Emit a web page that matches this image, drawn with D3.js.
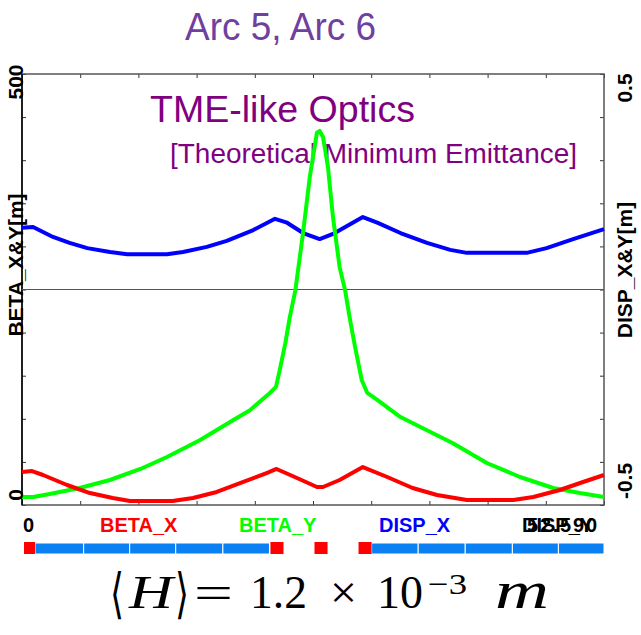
<!DOCTYPE html>
<html>
<head>
<meta charset="utf-8">
<script src="https://cdn.jsdelivr.net/npm/d3@7"></script>
<style>
  body { margin: 0; background: #fff; }
  svg { display: block; }
</style>
</head>
<body>
<svg id="chart" width="641" height="635"></svg>
<script>
"use strict";

// ring length [m]
const sLen = 52.59;

// BETA_X
const sBetaX = [0, 0.9, 1.9, 4.07, 6.14, 8.2, 9.76, 13.6, 15.45, 17.6, 20.0, 22.1, 23.0, 24.85, 26.65, 27.2, 28.7, 30.8, 33.0, 35.3, 37.5, 40.2, 44.4, 46.2, 48.6, 50.7, 52.59];
const betaX = [38.3, 39.4, 34.8, 23.2, 13.9, 8.1, 4.6, 4.6, 8.1, 15.1, 26.7, 37.1, 41.8, 31.3, 20.9, 20.9, 29, 44, 32.5, 19.7, 11.6, 5.8, 5.8, 9.3, 17.4, 26.7, 34.8];

// BETA_Y
const sBetaY = [0, 1.0, 2.5, 5.2, 7.95, 10.7, 13.1, 16.1, 19.1, 20.6, 22.4, 22.95, 23.3, 23.8, 24.2, 24.7, 25.4, 26.0, 26.65, 26.9, 27.2, 27.65, 28.1, 28.7, 29.2, 29.6, 30.1, 30.7, 31.2, 32.1, 34.2, 36.0, 38.9, 42.0, 45.0, 48.0, 50.4, 52.59];
const betaY = [9.3, 9.3, 12.8, 19.7, 29, 41.8, 55.7, 75.4, 98.6, 110, 130, 137, 157, 188, 218, 249, 316, 380, 432, 434, 427, 392, 334, 276, 249, 218, 183, 145, 130, 122, 102, 90.5, 72, 48.7, 32.5, 19.7, 13.9, 9.3];

// DISP_X
const sDispX = [0, 1.0, 2.8, 4.3, 5.9, 7.95, 9.5, 13.1, 14.55, 16.7, 18.5, 20.9, 22.86, 23.95, 25.4, 26.9, 28.1, 30.8, 32.1, 34.2, 36.6, 38.7, 40.2, 45.6, 47.4, 49.8, 52.59];
const dispX = [0.143, 0.145, 0.122, 0.108, 0.096, 0.087, 0.082, 0.082, 0.087, 0.099, 0.113, 0.138, 0.164, 0.155, 0.131, 0.117, 0.129, 0.168, 0.155, 0.131, 0.108, 0.092, 0.085, 0.085, 0.096, 0.117, 0.140];

// lattice elements (s start / end)
const bendStart = [0.18, 22.45, 26.43, 30.41];
const bendEnd = [1.18, 23.63, 27.61, 31.59];
const quadStart = [1.18, 5.57, 9.73, 13.89, 18.15, 31.59, 35.8, 40.05, 44.31, 48.47];
const quadEnd = [5.57, 9.73, 13.89, 18.15, 22.36, 35.8, 40.05, 44.31, 48.47, 52.59];

const leftTicks = d3.range(0, 501, 50);
const rightTicks = d3.range(-5, 6).map(d => d / 10);
const xTicks = d3.range(0, 11).map(i => sLen * i / 10);

const legendNames = ["BETA_X", "BETA_Y", "DISP_X", "DISP_Y"];

const svg = d3.select("#chart");
const x0 = 22, x1 = 604, yTop = 74, yBot = 505;

const x = d3.scaleLinear().domain([0, sLen]).range([x0, x1]);
const yL = d3.scaleLinear().domain([0, 500]).range([yBot, yTop]);
const yR = d3.scaleLinear().domain([-0.5, 0.5]).range([yBot, yTop]);

const sans = "'Liberation Sans', Arial, sans-serif";

// titles
svg.append("text")
  .attr("x", 185).attr("y", 40)
  .attr("textLength", 191).attr("lengthAdjust", "spacingAndGlyphs")
  .style("font-family", "'Liberation Sans Narrow', 'Liberation Sans', Arial, sans-serif")
  .style("font-size", "39px")
  .style("fill", "#7040a0")
  .text("Arc 5, Arc 6");

svg.append("text")
  .attr("x", 150).attr("y", 122)
  .attr("textLength", 265).attr("lengthAdjust", "spacingAndGlyphs")
  .style("font-family", sans)
  .style("font-size", "37px")
  .style("fill", "#800080")
  .text("TME-like Optics");

svg.append("text")
  .attr("x", 170).attr("y", 163)
  .attr("textLength", 407).attr("lengthAdjust", "spacingAndGlyphs")
  .style("font-family", sans)
  .style("font-size", "27px")
  .style("fill", "#800080")
  .text("[Theoretical Minimum Emittance]");

// axes (ticks only, inward)
const tickStyle = g => {
  g.selectAll(".tick line").attr("stroke", "#333").attr("stroke-width", 1);
  g.select(".domain").remove();
};

svg.append("g").attr("transform", `translate(0,${yBot})`)
  .call(d3.axisBottom(x).tickValues(xTicks).tickSize(-4).tickSizeOuter(0).tickFormat(""))
  .call(tickStyle);
svg.append("g").attr("transform", `translate(0,${yTop})`)
  .call(d3.axisTop(x).tickValues(xTicks).tickSize(-4).tickSizeOuter(0).tickFormat(""))
  .call(tickStyle);
svg.append("g").attr("transform", `translate(${x0},0)`)
  .call(d3.axisLeft(yL).tickValues(leftTicks).tickSize(-4).tickSizeOuter(0).tickFormat(""))
  .call(tickStyle);
svg.append("g").attr("transform", `translate(${x1},0)`)
  .call(d3.axisRight(yR).tickValues(rightTicks).tickSize(-4).tickSizeOuter(0).tickFormat(""))
  .call(tickStyle);

// frame
svg.append("rect")
  .attr("x", x0).attr("y", yTop)
  .attr("width", x1 - x0).attr("height", yBot - yTop)
  .attr("fill", "none").attr("stroke", "#555").attr("stroke-width", 1.5);
svg.append("line")
  .attr("x1", x0).attr("x2", x0).attr("y1", yTop).attr("y2", yBot)
  .attr("stroke", "#000").attr("stroke-width", 1.5);

// zero line of dispersion
svg.append("line")
  .attr("x1", x0).attr("x2", x1).attr("y1", yR(0)).attr("y2", yR(0))
  .attr("stroke", "#555").attr("stroke-width", 1.2);

// curves
function drawCurve(sArr, vArr, yScale, color) {
  const line = d3.line()
    .x((d, i) => x(sArr[i]))
    .y(d => yScale(d));
  svg.append("path")
    .datum(vArr)
    .attr("d", line)
    .attr("fill", "none")
    .attr("stroke", color)
    .attr("stroke-width", 4)
    .attr("stroke-linejoin", "round");
}
drawCurve(sDispX, dispX, yR, "#0000ff");
drawCurve(sBetaY, betaY, yL, "#00ff00");
drawCurve(sBetaX, betaX, yL, "#ff0000");

// axis labels
function vLabel(px, py, txt) {
  svg.append("text")
    .attr("transform", `translate(${px},${py}) rotate(-90)`)
    .attr("text-anchor", "middle")
    .style("font-family", sans)
    .style("font-weight", "bold")
    .style("font-size", "21px")
    .style("fill", "#000")
    .text(txt);
}
vLabel(23, yL(500) + 8, leftTicks[leftTicks.length - 1]);
vLabel(23, yL(0) - 10, leftTicks[0]);
vLabel(23, 265, "BETA_X&Y[m]");
vLabel(632, yR(0.5) + 14, rightTicks[rightTicks.length - 1]);
vLabel(632, yR(-0.5) - 24, "-0.5");
vLabel(632, 270, "DISP_X&Y[m]");

// legend row
const legendRow = 532;
const legendX = [100, 239, 379, 522];
const legendColors = ["#ff0000", "#00ff00", "#0000ff", "#000"];
svg.append("text")
  .attr("x", x0 + 1).attr("y", legendRow)
  .style("font-family", sans).style("font-weight", "bold").style("font-size", "20px")
  .text("0");
legendNames.forEach((n, i) => {
  svg.append("text")
    .attr("x", legendX[i]).attr("y", legendRow)
    .style("font-family", sans).style("font-weight", "bold").style("font-size", "20px")
    .style("fill", legendColors[i])
    .text(n);
});
svg.append("text")
  .attr("x", 597).attr("y", legendRow)
  .attr("text-anchor", "end")
  .attr("textLength", 70).attr("lengthAdjust", "spacing")
  .style("font-family", sans).style("font-weight", "bold").style("font-size", "20px")
  .text(sLen.toFixed(3));

// lattice bar
const latY = 542, latH = 12;
svg.append("g").selectAll("rect")
  .data(quadStart)
  .join("rect")
  .attr("x", d => x(d))
  .attr("width", (d, i) => x(quadEnd[i]) - x(d))
  .attr("y", latY + 1).attr("height", latH - 1)
  .attr("fill", "#0a80f2")
  .attr("stroke", "#fff").attr("stroke-width", 1);
svg.append("g").selectAll("rect")
  .data(bendStart)
  .join("rect")
  .attr("x", d => x(d))
  .attr("width", (d, i) => x(bendEnd[i]) - x(d))
  .attr("y", latY).attr("height", latH)
  .attr("fill", "#ff0000");

// formula
const serif = "'Liberation Serif', 'Times New Roman', serif";
const formula = [
  { t: "\u27E8", x: 110, w: 14, size: 54, style: "normal", y: 612, font: "'DejaVu Serif', serif" },
  { t: "H", x: 129, w: 44, size: 47, style: "italic", y: 608, font: serif },
  { t: "\u27E9", x: 175, w: 14, size: 54, style: "normal", y: 612, font: "'DejaVu Serif', serif" },
  { t: "=", x: 194, w: 39, size: 47, style: "normal", y: 608, font: serif },
  { t: "1.2", x: 250, w: 57, size: 47, style: "normal", y: 608, font: serif },
  { t: "\u00D7", x: 330, w: 27, size: 47, style: "normal", y: 608, font: serif },
  { t: "10", x: 377, w: 46, size: 47, style: "normal", y: 608, font: serif },
  { t: "\u22123", x: 428, w: 39, size: 30, style: "normal", y: 594, font: serif },
  { t: "m", x: 495, w: 54, size: 52, style: "italic", y: 608, font: serif }
];
formula.forEach(f => {
  svg.append("text")
    .attr("x", f.x).attr("y", f.y)
    .attr("textLength", f.w).attr("lengthAdjust", "spacingAndGlyphs")
    .style("font-family", f.font)
    .style("font-style", f.style)
    .style("font-size", f.size + "px")
    .text(f.t);
});
</script>
</body>
</html>
